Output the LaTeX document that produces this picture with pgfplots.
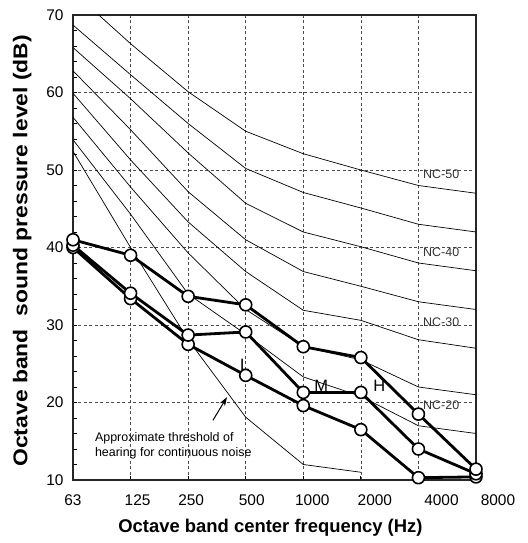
\documentclass[border=0pt]{standalone}
\usepackage{pgfplots}
\pgfplotsset{compat=1.18}
\usepackage{fontspec}
\setmainfont{Liberation Sans}
\usetikzlibrary{arrows.meta}
\begin{document}
\begin{tikzpicture}
\path[use as bounding box] (-73bp,-63bp) rectangle (455bp,480bp);
\begin{axis}[
  scale only axis, width=403bp, height=465bp,
  at={(0,0)}, anchor=south west,
  xmin=0, xmax=7, ymin=10, ymax=70,
  xtick={0,...,7},
  xticklabels={63,\hspace*{14bp}125,\hspace*{6bp}250,\hspace*{12bp}500,\hspace*{18bp}1000,\hspace*{28bp}2000,\hspace*{46bp}4000,\hspace*{44bp}8000},
  ytick={10,20,...,70},
  minor y tick num=4,
  tick align=inside,
  xtick pos=bottom, ytick pos=left,
  major tick length=4bp, minor tick length=4bp,
  tick style={black, line width=0.9bp},
  grid=major,
  major grid style={black!70, line width=0.7bp, dash pattern=on 3bp off 2.5bp},
  axis line style={black!85, line width=1.8bp},
  /pgf/number format/assume math mode=true,
  tick label style={font=\fontsize{15.5}{18}\selectfont},
  xticklabel style={yshift=-11bp},
  yticklabel style={xshift=-6bp},
  xlabel={Octave band center frequency (Hz)},
  ylabel={Octave band\ \ sound pressure level (dB)},
  xlabel style={font=\bfseries\fontsize{18.5}{22}\selectfont, at={(axis description cs:0.49,0)}, anchor=north, yshift=-36bp},
  ylabel style={font=\bfseries\fontsize{20}{22}\selectfont, at={(axis description cs:-0.126,0.493)}, anchor=center, xscale=1.15},
]
% NC curves
\addplot[black, line width=0.7bp] coordinates {(0,73) (1,66.3) (2,60.1) (3,55) (4,52.1) (5,50) (6,48) (7,47)};
\addplot[black, line width=0.7bp] coordinates {(0,68.7) (1,62.3) (2,56) (3,50.2) (4,47.1) (5,45.1) (6,43) (7,42)};
\addplot[black, line width=0.7bp] coordinates {(0,65.8) (1,59.2) (2,52.2) (3,45.7) (4,42) (5,40.1) (6,38) (7,37)};
\addplot[black, line width=0.7bp] coordinates {(0,62.8) (1,55.2) (2,47.2) (3,41) (4,36.9) (5,35) (6,33) (7,32)};
\addplot[black, line width=0.7bp] coordinates {(0,59.9) (1,51.3) (2,43.3) (3,36.9) (4,31.9) (5,30.6) (6,28.1) (7,27)};
\addplot[black, line width=0.7bp] coordinates {(0,56.8) (1,47.8) (2,39.3) (3,32) (4,27.2) (5,25.5) (6,22) (7,21)};
\addplot[black, line width=0.7bp] coordinates {(0,53.9) (1,44.3) (2,34.0) (3,28.8) (4,23.3) (5,20.8) (6,17) (7,16)};
% threshold of hearing
\addplot[black, line width=0.7bp] coordinates {(0,52.4) (1,40) (2,28.1) (3,18.1) (4,12) (5,11)};
% labels
\node[anchor=west, inner sep=0pt, font=\fontsize{12.5}{14}\selectfont, text=black!80] at (axis cs:6.08,49.5) {NC-50};
\node[anchor=west, inner sep=0pt, font=\fontsize{12.5}{14}\selectfont, text=black!80] at (axis cs:6.08,39.4) {NC-40};
\node[anchor=west, inner sep=0pt, font=\fontsize{12.5}{14}\selectfont, text=black!80] at (axis cs:6.08,30.4) {NC-30};
\node[anchor=west, inner sep=0pt, font=\fontsize{12.5}{14}\selectfont, text=black!80] at (axis cs:6.08,19.6) {NC-20};
\node[anchor=west, inner sep=0pt, align=left, font=\fontsize{12.5}{14.5}\selectfont] at (axis cs:0.38,14.4) {Approximate threshold of\\hearing for continuous noise};
\draw[-{Stealth[length=9bp,width=6bp]}, line width=1bp] (axis cs:2.43,17.7) -- (axis cs:2.675,20.7);
\node[anchor=south west, inner sep=0pt, font=\fontsize{16.5}{18}\selectfont] at (axis cs:2.9,24.1) {L};
\node[inner sep=0pt, font=\fontsize{16.5}{18}\selectfont] at (axis cs:4.31,22.1) {M};
\node[inner sep=0pt, font=\fontsize{16.5}{18}\selectfont] at (axis cs:5.32,22.1) {H};
% measured series
\addplot[black, line width=2.8bp, mark=*, mark size=6bp, mark options={fill=white, draw=black, line width=1.6bp}] coordinates {(0,40) (1,33.4) (2,27.5) (3,23.5) (4,19.6) (5,16.5) (6,10.3) (7,10.4)};
\addplot[black, line width=2.8bp, mark=*, mark size=6bp, mark options={fill=white, draw=black, line width=1.6bp}] coordinates {(0,40.3) (1,34.1) (2,28.7) (3,29.1) (4,21.3) (5,21.3) (6,14.0) (7,10.8)};
\addplot[black, line width=2.8bp, mark=*, mark size=6bp, mark options={fill=white, draw=black, line width=1.6bp}] coordinates {(0,41) (1,39.0) (2,33.7) (3,32.6) (4,27.2) (5,25.8) (6,18.5) (7,11.4)};
\end{axis}
\end{tikzpicture}
\end{document}
